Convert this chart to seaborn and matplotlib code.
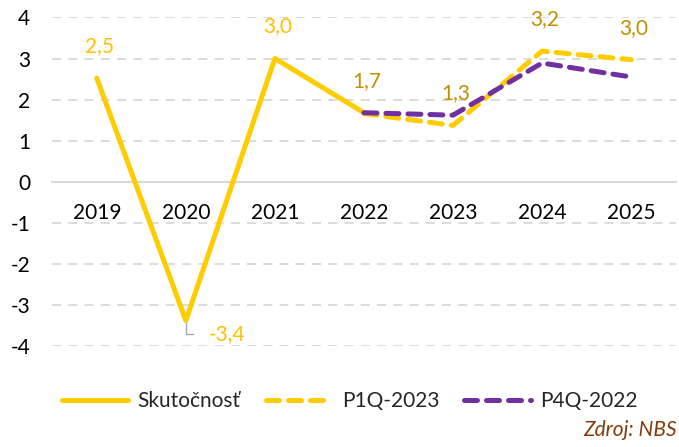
import numpy as np
import pandas as pd
import seaborn as sns
import matplotlib.pyplot as plt

# data
years_actual = [2019, 2020, 2021, 2022]
actual = [2.52, -3.38, 3.0, 1.68]
years_fc = [2022, 2023, 2024, 2025]
p1q_2023 = [1.66, 1.37, 3.18, 2.97]
p4q_2022 = [1.68, 1.62, 2.89, 2.55]
all_years = [2019, 2020, 2021, 2022, 2023, 2024, 2025]

# shown labels (year, value, text)
labels_actual = [(2019, 2.52, "2,5"), (2021, 3.0, "3,0")]
labels_fc = [(2022, 1.68, "1,7"), (2023, 1.37, "1,3"), (2024, 3.18, "3,2"), (2025, 2.97, "3,0")]

YELLOW = "#FFCC00"
PURPLE = "#7030A0"
LBL1 = "#FFC000"
LBL2 = "#BF9000"
FS = 15

sns.set_style("white")
plt.rcParams["font.family"] = ["Lato", "DejaVu Sans"]
plt.rcParams["axes.unicode_minus"] = False

df = pd.concat([
    pd.DataFrame({"rok": years_actual, "val": actual, "serie": "Skutočnosť"}),
    pd.DataFrame({"rok": years_fc, "val": p1q_2023, "serie": "P1Q-2023"}),
    pd.DataFrame({"rok": years_fc, "val": p4q_2022, "serie": "P4Q-2022"}),
])

fig = plt.figure(figsize=(6.79, 4.47), dpi=100)
ax = fig.add_axes([0.077, 0.226, 0.918, 0.735])

for y in [-4, -3, -2, -1, 1, 2, 3, 4]:
    ax.axhline(y, color="#D9D9D9", lw=1.3, ls=(0, (5, 4)), zorder=0)

styles = {
    "Skutočnosť": dict(color=YELLOW, ls="-"),
    "P1Q-2023": dict(color=YELLOW, ls=(0, (2.6, 1.8))),
    "P4Q-2022": dict(color=PURPLE, ls=(0, (2.6, 1.8))),
}
for name in ["Skutočnosť", "P1Q-2023", "P4Q-2022"]:
    sub = df[df.serie == name]
    sns.lineplot(data=sub, x="rok", y="val", ax=ax, label=name,
                 color=styles[name]["color"], linestyle=styles[name]["ls"],
                 lw=3.6, solid_capstyle="round", dash_capstyle="round",
                 solid_joinstyle="round", zorder=3)

for x, v, t in labels_actual:
    ax.annotate(t, (x, v), xytext=(2, 23), textcoords="offset points",
                ha="center", va="center", color=LBL1, fontsize=FS)
for x, v, t in labels_fc:
    ax.annotate(t, (x, v), xytext=(2, 23), textcoords="offset points",
                ha="center", va="center", color=LBL2, fontsize=FS)

# -3,4 with leader line
ax.annotate("-3,4", (years_actual[1], actual[1]), xytext=(30, -10), textcoords="offset points",
            ha="center", va="center", color=LBL1, fontsize=FS,
            arrowprops=dict(arrowstyle="-", color="#A6A6A6", lw=1,
                            connectionstyle="angle,angleA=0,angleB=90,rad=0",
                            shrinkA=9, shrinkB=2))

ax.set_xlim(2018.5, 2025.5)
ax.set_ylim(-4.0, 4.0)
ax.set_yticks(range(-4, 5))
ax.set_xticks(all_years)
ax.set_xticklabels([str(y) for y in all_years])
ax.set_xlabel("")
ax.set_ylabel("")

for s in ["top", "right", "left"]:
    ax.spines[s].set_visible(False)
ax.spines["bottom"].set_position(("data", 0))
ax.spines["bottom"].set_color("#D9D9D9")
ax.spines["bottom"].set_linewidth(1.5)
ax.spines["bottom"].set_zorder(1)
ax.tick_params(axis="x", length=0, pad=15, labelsize=FS, labelcolor="black")
ax.tick_params(axis="y", length=0, pad=16, labelsize=FS, labelcolor="black")

ax.legend(loc="upper center", bbox_to_anchor=(0.477, -0.08), ncol=3, frameon=False,
          fontsize=FS, handlelength=3.2, handletextpad=0.45, columnspacing=1.2)

fig.text(0.997, 0.015, "Zdroj: NBS", ha="right", va="bottom", style="italic",
         color="#843C0C", fontsize=FS)

fig.savefig("out.png", dpi=100)
